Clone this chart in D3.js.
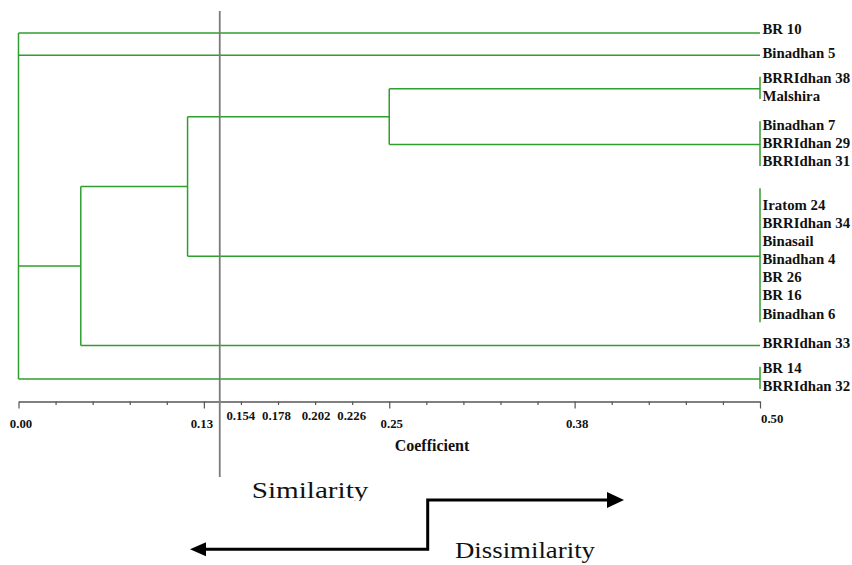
<!DOCTYPE html>
<html>
<head>
<meta charset="utf-8">
<script src="https://cdn.jsdelivr.net/npm/d3@7"></script>
<style>
  html, body { margin: 0; padding: 0; background: #fff; }
  svg { display: block; }
  text { font-family: "Liberation Serif", "Times New Roman", serif; fill: #111; }
</style>
</head>
<body>
<svg id="chart" width="852" height="565"></svg>
<script>
// ---------------- data ----------------
const leafNames = ["BR 10", "Binadhan 5", "BRRIdhan 38", "Malshira", "Binadhan 7", "BRRIdhan 29",
  "BRRIdhan 31", "Iratom 24", "BRRIdhan 34", "Binasail", "Binadhan 4", "BR 26", "BR 16",
  "Binadhan 6", "BRRIdhan 33", "BR 14", "BRRIdhan 32"];
const groupIds = ["g0", "g1", "g2", "g3", "g4", "g5", "g6"];
const groupSizes = [1, 1, 2, 3, 7, 1, 2];
const leafCoef = 0.50;
const nodeIds = ["n1", "n2", "n3", "root"];
const nodeCoef = [0.25, 0.114, 0.042, 0.0];
const nodeChildren = [["g2", "g3"], ["n1", "g4"], ["n2", "g5"], ["g0", "g1", "n3", "g6"]];
const tickValues = d3.range(0, 0.5001, 0.025);
const majorTicks = [0, 0.125, 0.25, 0.375, 0.5];
const majorLabels = ["0.00", "0.13", "0.25", "0.38", "0.50"];
const extraLabels = ["0.154", "0.178", "0.202", "0.226"];
const extraValues = [0.154, 0.178, 0.202, 0.226];
const cutLevel = 0.1357;
const axisTitle = "Coefficient";

// ---------------- scales ----------------
const svg = d3.select("#chart");
const x = d3.scaleLinear().domain([0, 0.5]).range([18.5, 760]);
const y = d3.scaleLinear().domain([1, 17]).range([33, 33 + 16 * 22.32]);

const green = "#2f9e2f";
const pos = {};
let start = 1;
groupIds.forEach((g, i) => {
  const n = groupSizes[i];
  pos[g] = { x: x(leafCoef), y: y(start + (n - 1) / 2), y0: y(start), y1: y(start + n - 1),
             start: start, n: n, names: leafNames.slice(start - 1, start - 1 + n) };
  start += n;
});
nodeIds.forEach((id, i) => {
  const ch = nodeChildren[i].map(c => pos[c]);
  const ys = ch.map(c => c.y);
  pos[id] = { x: x(nodeCoef[i]), y: (d3.min(ys) + d3.max(ys)) / 2, y0: d3.min(ys), y1: d3.max(ys) };
});

const gLines = svg.append("g").attr("stroke", green).attr("stroke-width", 1.5).attr("fill", "none");
nodeIds.forEach((id, i) => {
  const p = pos[id];
  gLines.append("line").attr("x1", p.x).attr("x2", p.x).attr("y1", p.y0).attr("y2", p.y1);
  nodeChildren[i].forEach(c => {
    const q = pos[c];
    gLines.append("line").attr("x1", p.x).attr("x2", q.x).attr("y1", q.y).attr("y2", q.y);
  });
});
groupIds.forEach(g => {
  const q = pos[g];
  if (q.n > 1) {
    gLines.append("line").attr("x1", q.x).attr("x2", q.x).attr("y1", q.y0 - 1).attr("y2", q.y1 - 1);
  }
});

// leaf labels
const gLab = svg.append("g").attr("font-weight", "bold").attr("font-size", "14.8px");
groupIds.forEach(g => {
  const q = pos[g];
  const shift = q.n > 5 ? 3 : (q.n === 1 && q.start === 1 ? -4.5 : -2);
  q.names.forEach((name, j) => {
    const cy = q.y + (j - (q.n - 1) / 2) * 18.1 + shift;
    gLab.append("text").attr("x", q.x + 2.5).attr("y", cy + 5).text(name);
  });
});

// cut line
svg.append("line").attr("x1", x(cutLevel)).attr("x2", x(cutLevel)).attr("y1", 11).attr("y2", 477)
  .attr("stroke", "#7a7a7a").attr("stroke-width", 1.8);

// axis
const axisY = 401.5;
const axis = d3.axisBottom(x).tickValues(tickValues).tickSize(3).tickSizeOuter(0).tickFormat("");
const gAxis = svg.append("g").attr("transform", `translate(0,${axisY})`).call(axis);
gAxis.select(".domain").attr("stroke", "#808080").attr("stroke-width", 2);
gAxis.selectAll(".tick line").attr("stroke", "#555").attr("stroke-width", 1.2)
  .attr("y2", d => majorTicks.some(m => Math.abs(m - d) < 1e-9) ? 7 : 3.5);

const gTick = svg.append("g").attr("font-weight", "bold").attr("font-size", "12.8px");
majorTicks.forEach((v, i) => {
  const last = i === majorTicks.length - 1;
  gTick.append("text")
    .attr("x", last ? x(v) + 1 : x(v) + (i === 1 ? -2 : 2.5))
    .attr("y", last ? 422.5 : 427.5)
    .attr("text-anchor", last ? "start" : "middle")
    .text(majorLabels[i]);
});
extraValues.forEach((v, i) => {
  gTick.append("text").attr("x", x(v) - (i < 2 ? 6 : 2)).attr("y", 419.5)
    .attr("text-anchor", "middle").text(extraLabels[i]);
});
svg.append("text").attr("x", 432).attr("y", 450.5).attr("text-anchor", "middle")
  .attr("font-weight", "bold").attr("font-size", "16px").text(axisTitle);

// similarity / dissimilarity annotation
const defs = svg.append("defs");
defs.append("clipPath").attr("id", "clipSim").append("rect")
  .attr("x", 0).attr("y", 0).attr("width", 852).attr("height", 501);
svg.append("text").attr("x", 251.7).attr("y", 497.5).attr("font-size", "24px")
  .attr("textLength", 116.7).attr("lengthAdjust", "spacingAndGlyphs")
  .attr("clip-path", "url(#clipSim)").text("Similarity");
svg.append("text").attr("x", 455).attr("y", 558).attr("font-size", "24px")
  .attr("textLength", 140).attr("lengthAdjust", "spacingAndGlyphs").text("Dissimilarity");

const arrow = svg.append("g");
arrow.append("path")
  .attr("d", "M607,500 H427.7 V549.3 H205")
  .attr("fill", "none").attr("stroke", "#000").attr("stroke-width", 3);
arrow.append("path").attr("d", "M624,500 L607,492 L607,508 Z").attr("fill", "#000");
arrow.append("path").attr("d", "M190,549.3 L206,542.3 L206,556.3 Z").attr("fill", "#000");
</script>
</body>
</html>
